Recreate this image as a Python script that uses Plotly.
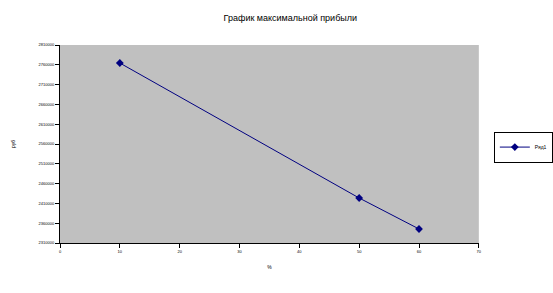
import plotly.graph_objects as go

x_vals = [10, 50, 60]
y_vals = [2764500, 2423600, 2345400]
series_name = "Ряд1"
title_text = "График максимальной прибыли"
y_ticks = [2310000 + 50000 * i for i in range(11)]
x_ticks = [0, 10, 20, 30, 40, 50, 60, 70]

fig = go.Figure()
fig.add_trace(go.Scatter(
    x=x_vals, y=y_vals, mode="lines+markers", name=series_name,
    line=dict(color="#000080", width=1),
    marker=dict(symbol="diamond", size=6, color="#000080"),
))

fig.update_layout(
    width=553, height=293,
    margin=dict(l=60, r=67, t=45, b=50),
    paper_bgcolor="white", plot_bgcolor="#c0c0c0",
    font=dict(family="Liberation Sans, Arial", color="black"),
    title=dict(text=title_text, x=0.525, xanchor="center", y=0.94, yanchor="middle",
               font=dict(size=9)),
    showlegend=True,
    legend=dict(xref="container", yref="container", x=0.893, y=0.498,
                xanchor="left", yanchor="middle",
                bordercolor="black", borderwidth=1, bgcolor="white",
                font=dict(size=5), itemwidth=30, tracegroupgap=0),
    xaxis=dict(range=[0, 70], tickvals=x_ticks, showgrid=False, zeroline=False,
               showline=True, linecolor="black", linewidth=1,
               ticks="outside", ticklen=4, tickcolor="black",
               tickfont=dict(size=4),
               title=dict(text="%", font=dict(size=5), standoff=12)),
    yaxis=dict(range=[y_ticks[0], y_ticks[-1]], tickvals=y_ticks, showgrid=False,
               zeroline=False, showline=True, linecolor="black", linewidth=1,
               ticks="outside", ticklen=4, tickcolor="black",
               tickfont=dict(size=4), tickformat="d",
               title=dict(text="руб", font=dict(size=5), standoff=22)),
)

fig.write_html("out.html")
